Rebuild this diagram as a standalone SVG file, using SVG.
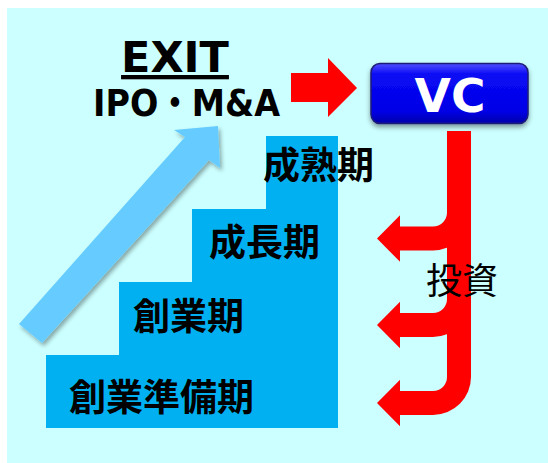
<svg xmlns="http://www.w3.org/2000/svg" width="548" height="463" viewBox="0 0 548 463">
  <defs>
    <linearGradient id="vcGrad" x1="0" y1="0" x2="0" y2="1">
      <stop offset="0" stop-color="#5050FF"/>
      <stop offset="0.18" stop-color="#0A0AF5"/>
      <stop offset="0.8" stop-color="#0000E6"/>
      <stop offset="1" stop-color="#0000A8"/>
    </linearGradient>
    <filter id="shadow" x="-20%" y="-20%" width="140%" height="150%">
      <feDropShadow dx="2" dy="3" stdDeviation="2" flood-color="#000" flood-opacity="0.35"/>
    </filter>
    <filter id="shadowVC" x="-10%" y="-20%" width="120%" height="150%">
      <feDropShadow dx="0" dy="3" stdDeviation="2.5" flood-color="#000" flood-opacity="0.4"/>
    </filter>
  </defs>
  <style>
    .step { fill: #00B0F0; }
    .stage { font-family: "Noto Sans CJK JP", "Noto Sans CJK SC", sans-serif; font-weight: bold; font-size: 37px; fill: #000; }
    .latin { font-family: "DejaVu Sans", "Noto Sans CJK JP", sans-serif; font-weight: bold; fill: #000; }
    .red { fill: #FF0000; }
  </style>

  <rect id="background" x="7" y="8" width="541" height="455" fill="#CCFFFF"/>

  <g id="stairs">
    <rect class="step" x="266" y="136" width="72" height="74"/>
    <rect class="step" x="192" y="209" width="146" height="74"/>
    <rect class="step" x="119" y="282" width="219" height="74"/>
    <rect class="step" x="46" y="355" width="292" height="73"/>
  </g>

  <g id="connectors">
    <polygon id="growth-arrow" fill="#66CCFF" filter="url(#shadow)" points="19,324 42,343 209,160 220,168 218,126 174,130 185,137"/>
    <polygon id="exit-to-vc" class="red" points="291,73 328,73 328,58 357,88 328,117 328,102 291,102"/>
    <path id="invest-1" class="red" d="M447,131 L471,131 L471,212.5 A38,38 0 0 1 433,250.5 L400,250.5 L400,261.8 L377,238.5 L400,215.2 L400,226.5 L433,226.5 A14,14 0 0 0 447,212.5 Z"/>
    <path id="invest-2" class="red" d="M447,131 L471,131 L471,299 A38,38 0 0 1 433,337 L400,337 L400,348.3 L377,325 L400,301.7 L400,313 L433,313 A14,14 0 0 0 447,299 Z"/>
    <path id="invest-3" class="red" d="M447,131 L471,131 L471,377 A38,38 0 0 1 433,415 L400,415 L400,426.3 L377,403 L400,379.7 L400,391 L433,391 A14,14 0 0 0 447,377 Z"/>
  </g>

  <g id="node-exit">
    <text class="latin" x="175" y="72" font-size="43" text-anchor="middle" text-decoration="underline">EXIT</text>
    <text class="latin" x="93" y="116" font-size="38" textLength="187" lengthAdjust="spacingAndGlyphs">IPO・M&amp;A</text>
  </g>

  <g id="node-vc">
    <rect x="371" y="63.5" width="157" height="60" rx="9" ry="9" fill="url(#vcGrad)" stroke="#1E1E78" stroke-width="1.5" filter="url(#shadowVC)"/>
    <text class="latin" x="450" y="112" font-size="47" text-anchor="middle" style="fill:#FFFFFF">VC</text>
  </g>

  <g id="node-seijukuki"><text class="stage" x="263" y="179">成熟期</text></g>
  <g id="node-seichoki"><text class="stage" x="209" y="256">成長期</text></g>
  <g id="node-sogyoki"><text class="stage" x="133" y="330">創業期</text></g>
  <g id="node-sogyojunbiki"><text class="stage" x="69" y="411">創業準備期</text></g>

  <g id="label-toshi">
    <text x="426" y="294" font-family="Noto Sans CJK JP, Noto Sans CJK SC, sans-serif" font-size="36" fill="#000">投資</text>
  </g>
</svg>
